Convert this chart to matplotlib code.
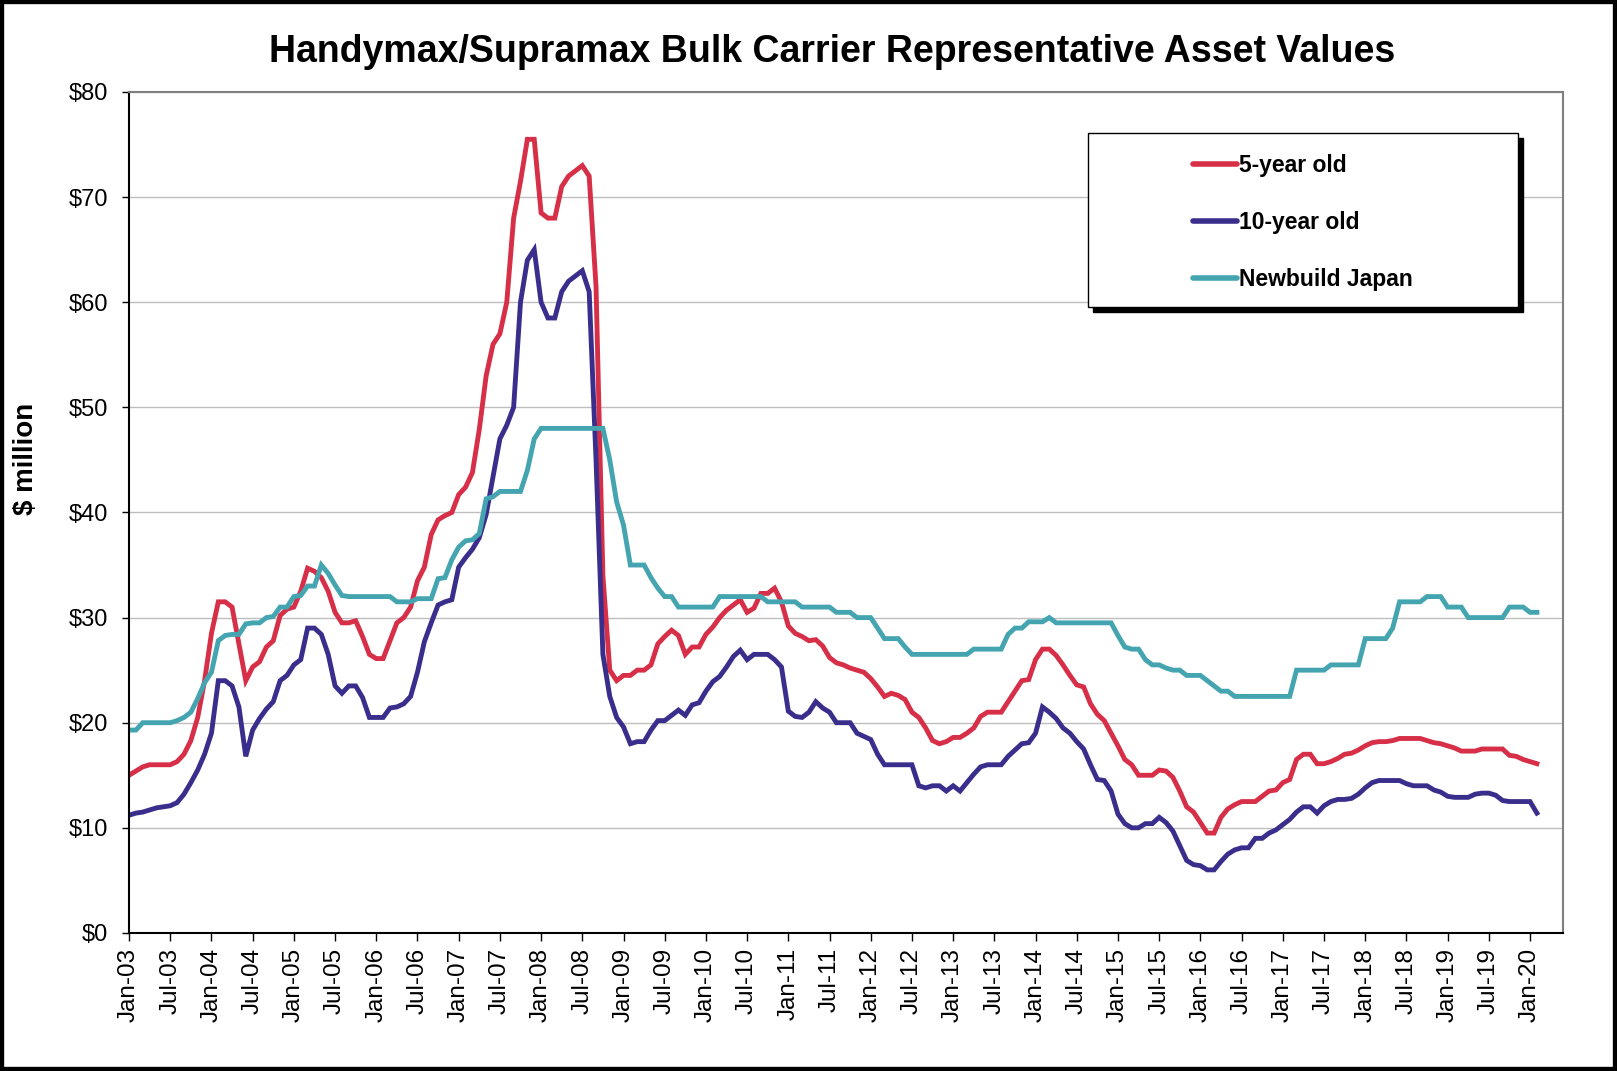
import matplotlib
matplotlib.use('Agg')
from matplotlib import pyplot as plt
from matplotlib.patches import Rectangle
from matplotlib.ticker import FuncFormatter
import numpy as np

plt.rcParams['font.family'] = ['Liberation Sans', 'DejaVu Sans']

# monthly values, Jan-03 .. Feb-20 ($ million)
five_year = [
    15.0, 15.4, 15.8, 16.0, 16.0, 16.0, 16.0, 16.3, 17.0, 18.3, 20.5, 24.0,  # 2003
    28.5, 31.5, 31.5, 31.0, 27.5, 24.0, 25.3, 25.8, 27.2, 27.8, 30.2, 30.8,  # 2004
    31.0, 32.5, 34.7, 34.4, 33.8, 32.5, 30.5, 29.5, 29.5, 29.7, 28.2, 26.5,  # 2005
    26.1, 26.1, 27.8, 29.5, 30.0, 31.0, 33.5, 34.8, 37.9, 39.3, 39.7, 40.0,  # 2006
    41.7, 42.4, 43.8, 47.9, 53.0, 56.0, 57.0, 60.0, 68.0, 71.5, 75.5, 75.5,  # 2007
    68.5, 68.0, 68.0, 71.0, 72.0, 72.5, 73.0, 72.0, 61.5, 34.0, 25.0, 24.0,  # 2008
    24.5, 24.5, 25.0, 25.0, 25.5, 27.5, 28.2, 28.8, 28.3, 26.5, 27.2, 27.2,  # 2009
    28.4, 29.1, 30.0, 30.7, 31.2, 31.7, 30.5, 30.9, 32.3, 32.3, 32.8, 31.5,  # 2010
    29.2, 28.5, 28.2, 27.8, 27.9, 27.3, 26.2, 25.7, 25.5, 25.2, 25.0, 24.8,  # 2011
    24.2, 23.4, 22.5, 22.8, 22.6, 22.2, 21.0, 20.5, 19.5, 18.3, 18.0, 18.2,  # 2012
    18.6, 18.6, 19.0, 19.5, 20.6, 21.0, 21.0, 21.0, 22.0, 23.0, 24.0, 24.1,  # 2013
    26.0, 27.0, 27.0, 26.4, 25.5, 24.5, 23.6, 23.4, 21.8, 20.8, 20.2, 19.0,  # 2014
    17.8, 16.5, 16.0, 15.0, 15.0, 15.0, 15.5, 15.4, 14.8, 13.5, 12.0, 11.5,  # 2015
    10.5, 9.5, 9.5, 11.0, 11.8, 12.2, 12.5, 12.5, 12.5, 13.0, 13.5, 13.6,    # 2016
    14.3, 14.6, 16.5, 17.0, 17.0, 16.1, 16.1, 16.3, 16.6, 17.0, 17.1, 17.4,  # 2017
    17.8, 18.1, 18.2, 18.2, 18.3, 18.5, 18.5, 18.5, 18.5, 18.3, 18.1, 18.0,  # 2018
    17.8, 17.6, 17.3, 17.3, 17.3, 17.5, 17.5, 17.5, 17.5, 16.9, 16.8, 16.5,  # 2019
    16.3, 16.1,                                                              # 2020
]

ten_year = [
    11.2, 11.4, 11.5, 11.7, 11.9, 12.0, 12.1, 12.4, 13.2, 14.3, 15.5, 17.0,  # 2003
    19.0, 24.0, 24.0, 23.5, 21.5, 16.8, 19.3, 20.4, 21.3, 22.0, 24.0, 24.5,  # 2004
    25.5, 26.0, 29.0, 29.0, 28.4, 26.5, 23.5, 22.8, 23.5, 23.5, 22.4, 20.5,  # 2005
    20.5, 20.5, 21.4, 21.5, 21.8, 22.5, 24.8, 27.7, 29.5, 31.2, 31.5, 31.7,  # 2006
    34.8, 35.7, 36.5, 37.6, 39.8, 43.4, 47.0, 48.3, 50.0, 60.0, 64.0, 65.0,  # 2007
    60.0, 58.5, 58.5, 61.0, 62.0, 62.5, 63.0, 61.0, 45.0, 26.5, 22.5, 20.5,  # 2008
    19.6, 18.0, 18.2, 18.2, 19.3, 20.2, 20.2, 20.7, 21.2, 20.7, 21.7, 21.9,  # 2009
    23.0, 23.9, 24.4, 25.3, 26.3, 26.9, 26.0, 26.5, 26.5, 26.5, 26.0, 25.3,  # 2010
    21.1, 20.6, 20.5, 21.0, 22.0, 21.4, 21.0, 20.0, 20.0, 20.0, 19.0, 18.7,  # 2011
    18.4, 17.0, 16.0, 16.0, 16.0, 16.0, 16.0, 14.0, 13.8, 14.0, 14.0, 13.5,  # 2012
    14.0, 13.5, 14.3, 15.1, 15.8, 16.0, 16.0, 16.0, 16.8, 17.4, 18.0, 18.1,  # 2013
    19.0, 21.5, 21.0, 20.4, 19.5, 19.0, 18.2, 17.5, 16.0, 14.6, 14.5, 13.5,  # 2014
    11.3, 10.4, 10.0, 10.0, 10.4, 10.4, 11.0, 10.5, 9.7, 8.3, 6.9, 6.5,      # 2015
    6.4, 6.0, 6.0, 6.8, 7.5, 7.9, 8.1, 8.1, 9.0, 9.0, 9.5, 9.8,              # 2016
    10.3, 10.8, 11.5, 12.0, 12.0, 11.4, 12.1, 12.5, 12.7, 12.7, 12.8, 13.2,  # 2017
    13.8, 14.3, 14.5, 14.5, 14.5, 14.5, 14.2, 14.0, 14.0, 14.0, 13.6, 13.4,  # 2018
    13.0, 12.9, 12.9, 12.9, 13.2, 13.3, 13.3, 13.1, 12.6, 12.5, 12.5, 12.5,  # 2019
    12.5, 11.4,                                                              # 2020
]

newbuild_japan = [
    19.3, 19.3, 20.0, 20.0, 20.0, 20.0, 20.0, 20.2, 20.5, 21.0, 22.3, 23.8,  # 2003
    24.8, 27.8, 28.3, 28.4, 28.4, 29.4, 29.5, 29.5, 30.0, 30.1, 31.0, 31.0,  # 2004
    32.0, 32.1, 33.0, 33.0, 35.0, 34.2, 33.1, 32.1, 32.0, 32.0, 32.0, 32.0,  # 2005
    32.0, 32.0, 32.0, 31.5, 31.5, 31.5, 31.8, 31.8, 31.8, 33.7, 33.8, 35.5,  # 2006
    36.7, 37.3, 37.4, 38.0, 41.3, 41.5, 42.0, 42.0, 42.0, 42.0, 44.0, 47.0,  # 2007
    48.0, 48.0, 48.0, 48.0, 48.0, 48.0, 48.0, 48.0, 48.0, 48.0, 45.0, 41.0,  # 2008
    38.8, 35.0, 35.0, 35.0, 33.8, 32.8, 32.0, 32.0, 31.0, 31.0, 31.0, 31.0,  # 2009
    31.0, 31.0, 32.0, 32.0, 32.0, 32.0, 32.0, 32.0, 32.0, 31.5, 31.5, 31.5,  # 2010
    31.5, 31.5, 31.0, 31.0, 31.0, 31.0, 31.0, 30.5, 30.5, 30.5, 30.0, 30.0,  # 2011
    30.0, 29.0, 28.0, 28.0, 28.0, 27.2, 26.5, 26.5, 26.5, 26.5, 26.5, 26.5,  # 2012
    26.5, 26.5, 26.5, 27.0, 27.0, 27.0, 27.0, 27.0, 28.4, 29.0, 29.0, 29.6,  # 2013
    29.6, 29.6, 30.0, 29.5, 29.5, 29.5, 29.5, 29.5, 29.5, 29.5, 29.5, 29.5,  # 2014
    28.3, 27.2, 27.0, 27.0, 26.0, 25.5, 25.5, 25.2, 25.0, 25.0, 24.5, 24.5,  # 2015
    24.5, 24.0, 23.5, 23.0, 23.0, 22.5, 22.5, 22.5, 22.5, 22.5, 22.5, 22.5,  # 2016
    22.5, 22.5, 25.0, 25.0, 25.0, 25.0, 25.0, 25.5, 25.5, 25.5, 25.5, 25.5,  # 2017
    28.0, 28.0, 28.0, 28.0, 29.0, 31.5, 31.5, 31.5, 31.5, 32.0, 32.0, 32.0,  # 2018
    31.0, 31.0, 31.0, 30.0, 30.0, 30.0, 30.0, 30.0, 30.0, 31.0, 31.0, 31.0,  # 2019
    30.5, 30.5,                                                              # 2020
]

series_names = ['5-year old', '10-year old', 'Newbuild Japan']
series_colors = ['#D62F47', '#3A2E8C', '#44A5B1']

tick_labels = ['Jan-03', 'Jul-03', 'Jan-04', 'Jul-04', 'Jan-05', 'Jul-05',
               'Jan-06', 'Jul-06', 'Jan-07', 'Jul-07', 'Jan-08', 'Jul-08',
               'Jan-09', 'Jul-09', 'Jan-10', 'Jul-10', 'Jan-11', 'Jul-11',
               'Jan-12', 'Jul-12', 'Jan-13', 'Jul-13', 'Jan-14', 'Jul-14',
               'Jan-15', 'Jul-15', 'Jan-16', 'Jul-16', 'Jan-17', 'Jul-17',
               'Jan-18', 'Jul-18', 'Jan-19', 'Jul-19', 'Jan-20']

fig = plt.figure(figsize=(16.17, 10.71), dpi=100)
ax = fig.add_axes([0.0798, 0.1289, 0.8868, 0.7852])

months = np.arange(len(five_year))
for vals, name, col in zip([five_year, ten_year, newbuild_japan], series_names, series_colors):
    ax.plot(months, vals, color=col, lw=3.5, label=name, solid_joinstyle='miter')

ax.set_ylim(0, 80)
ax.set_xlim(0, 208.8)
ax.set_yticks(np.arange(0, 81, 10))
ax.yaxis.set_major_formatter(FuncFormatter(lambda v, p: '$%d' % v))
ax.set_xticks(np.arange(0, 6 * len(tick_labels), 6))
ax.set_xticklabels(tick_labels, rotation=90)
ax.grid(axis='y', color='#BEBEBE', lw=1.0)
ax.set_axisbelow(True)

ax.tick_params(axis='y', direction='out', length=5, width=1, labelsize=17, pad=10)
ax.tick_params(axis='x', direction='out', length=6, width=1, labelsize=17.5, pad=5)
for s in ['top', 'right']:
    ax.spines[s].set_color('#808080')
    ax.spines[s].set_linewidth(1.5)
for s in ['left', 'bottom']:
    ax.spines[s].set_color('black')
    ax.spines[s].set_linewidth(1.5)

ax.set_ylabel('$ million', fontsize=20, fontweight='bold')
ax.yaxis.set_label_coords(-0.063, 0.564)

fig.text(0.5145, 0.951, 'Handymax/Supramax Bulk Carrier Representative Asset Values',
         ha='center', va='center', fontsize=27, fontweight='bold')

# legend box with black drop shadow
bx0, by0, bw, bh = 0.6688, 0.7444, 0.2998, 0.2068
dx, dy = 5 / 1434, 5 / 841
ax.add_patch(Rectangle((bx0 + dx, by0 - dy), bw, bh, transform=ax.transAxes,
                       facecolor='black', edgecolor='black', zorder=5))
ax.add_patch(Rectangle((bx0, by0), bw, bh, transform=ax.transAxes,
                       facecolor='white', edgecolor='black', lw=1.0, zorder=6))
leg = ax.legend(loc='center', bbox_to_anchor=(bx0 + bw / 2, by0 + bh / 2 - 0.003),
                frameon=False, handlelength=1.9, handletextpad=0.1,
                labelspacing=1.5, prop={'weight': 'bold', 'size': 16.5})
leg.set_zorder(7)
for h in leg.get_lines():
    h.set_linewidth(4.0)
    h.set_solid_capstyle('round')

fig.patches.append(Rectangle((0, 0), 1, 1, transform=fig.transFigure,
                             fill=False, edgecolor='black', lw=6))

fig.savefig('out.png', dpi=100)
